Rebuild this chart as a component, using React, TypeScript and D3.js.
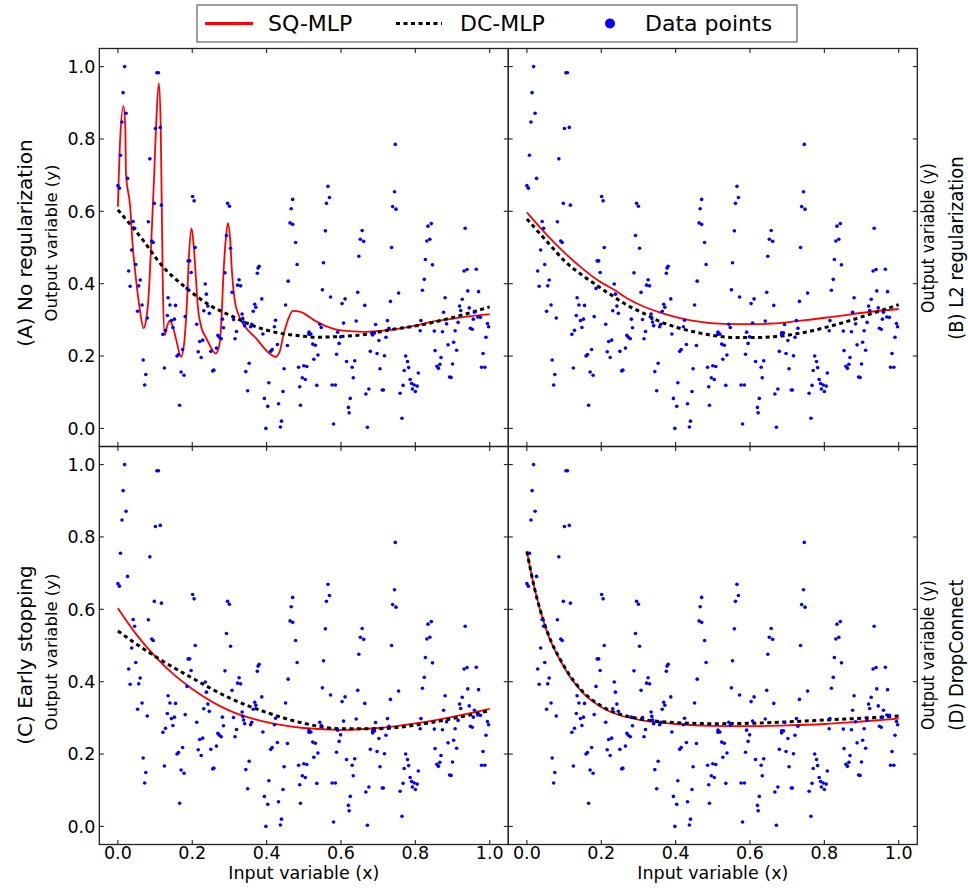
import React from "react";
import * as d3 from "d3";

// Shared scatter data (x, y)
const dataPoints: [number, number][] = [
  [0.018,1.0],[0.014,0.928],[0.105,0.983],[0.109,0.983],[0.022,0.871],[0.011,0.847],[0.101,0.829],[0.114,0.832],[0.007,0.755],[0.086,0.745],[0.026,0.691],[0.0,0.671],[0.004,0.664],[0.098,0.622],[0.117,0.617],[0.201,0.641],[0.205,0.629],[0.041,0.572],[0.082,0.571],[0.045,0.553],[0.091,0.518],[0.095,0.514],[0.037,0.493],[0.208,0.5],[0.048,0.453],[0.189,0.463],[0.193,0.463],[0.029,0.435],[0.197,0.431],[0.06,0.41],[0.033,0.393],[0.056,0.394],[0.235,0.399],[0.186,0.387],[0.135,0.361],[0.065,0.341],[0.14,0.341],[0.155,0.34],[0.053,0.324],[0.231,0.325],[0.079,0.305],[0.133,0.312],[0.181,0.309],[0.144,0.298],[0.152,0.302],[0.212,0.288],[0.148,0.279],[0.128,0.271],[0.121,0.26],[0.22,0.24],[0.228,0.244],[0.216,0.212],[0.224,0.196],[0.174,0.218],[0.159,0.2],[0.163,0.204],[0.068,0.189],[0.125,0.167],[0.075,0.149],[0.17,0.156],[0.178,0.147],[0.072,0.12],[0.166,0.064],
  [0.295,0.622],[0.3,0.614],[0.47,0.633],[0.466,0.607],[0.463,0.568],[0.47,0.564],[0.292,0.533],[0.478,0.514],[0.303,0.498],[0.482,0.453],[0.38,0.448],[0.377,0.443],[0.375,0.429],[0.288,0.43],[0.326,0.411],[0.322,0.396],[0.33,0.394],[0.458,0.407],[0.307,0.376],[0.238,0.371],[0.387,0.358],[0.368,0.343],[0.371,0.335],[0.451,0.341],[0.242,0.338],[0.246,0.318],[0.364,0.324],[0.334,0.316],[0.336,0.304],[0.338,0.294],[0.341,0.284],[0.281,0.302],[0.311,0.301],[0.36,0.288],[0.357,0.281],[0.424,0.299],[0.284,0.278],[0.319,0.268],[0.421,0.281],[0.39,0.261],[0.269,0.257],[0.273,0.252],[0.278,0.248],[0.315,0.248],[0.429,0.232],[0.456,0.229],[0.411,0.213],[0.415,0.218],[0.265,0.222],[0.25,0.213],[0.255,0.159],[0.258,0.161],[0.353,0.18],[0.344,0.157],[0.447,0.165],[0.486,0.169],[0.406,0.126],[0.489,0.115],[0.349,0.104],[0.444,0.102],[0.394,0.083],[0.432,0.068],[0.491,0.064],[0.403,0.061],[0.44,0.02],[0.437,0.004],[0.398,0.0],
  [0.746,0.785],[0.565,0.669],[0.569,0.638],[0.561,0.622],[0.744,0.654],[0.739,0.613],[0.748,0.606],[0.558,0.546],[0.657,0.547],[0.652,0.523],[0.661,0.517],[0.736,0.5],[0.648,0.476],[0.553,0.458],[0.55,0.383],[0.572,0.363],[0.611,0.358],[0.603,0.345],[0.645,0.376],[0.664,0.34],[0.733,0.351],[0.725,0.298],[0.729,0.277],[0.607,0.291],[0.641,0.297],[0.693,0.287],[0.543,0.288],[0.547,0.279],[0.514,0.266],[0.519,0.261],[0.514,0.26],[0.591,0.266],[0.599,0.253],[0.685,0.264],[0.69,0.264],[0.685,0.258],[0.721,0.252],[0.702,0.243],[0.595,0.235],[0.524,0.233],[0.531,0.23],[0.679,0.213],[0.697,0.207],[0.717,0.201],[0.538,0.203],[0.588,0.205],[0.527,0.191],[0.615,0.185],[0.637,0.187],[0.5,0.173],[0.508,0.171],[0.63,0.169],[0.705,0.165],[0.496,0.14],[0.504,0.135],[0.633,0.14],[0.535,0.119],[0.576,0.12],[0.585,0.12],[0.675,0.109],[0.667,0.095],[0.711,0.106],[0.714,0.106],[0.625,0.083],[0.62,0.058],[0.622,0.043],[0.58,0.012],[0.671,0.003],
  [0.834,0.559],[0.843,0.566],[0.831,0.518],[0.839,0.523],[0.934,0.553],[0.827,0.467],[0.846,0.452],[0.931,0.435],[0.939,0.439],[0.964,0.44],[0.824,0.412],[0.819,0.382],[0.755,0.374],[0.941,0.38],[0.97,0.378],[0.88,0.361],[0.926,0.357],[0.919,0.338],[0.922,0.326],[0.945,0.333],[0.876,0.321],[0.959,0.321],[0.968,0.308],[0.975,0.307],[0.815,0.298],[0.915,0.293],[0.956,0.302],[0.884,0.289],[0.994,0.29],[0.997,0.281],[0.948,0.277],[0.953,0.274],[0.813,0.27],[0.851,0.269],[0.873,0.267],[0.907,0.27],[0.99,0.252],[0.903,0.238],[0.888,0.231],[0.853,0.215],[0.911,0.216],[0.982,0.207],[0.774,0.2],[0.779,0.185],[0.869,0.196],[0.77,0.16],[0.782,0.168],[0.858,0.172],[0.862,0.166],[0.866,0.177],[0.9,0.178],[0.978,0.169],[0.987,0.169],[0.808,0.153],[0.786,0.135],[0.892,0.142],[0.896,0.141],[0.767,0.119],[0.79,0.124],[0.797,0.12],[0.805,0.117],[0.792,0.109],[0.8,0.102],[0.759,0.097],[0.764,0.028],
];

// SQ-MLP fits
const sqA: [number, number][] = [
  [0,0.613],[0.006,0.797],[0.015,0.891],[0.02,0.83],[0.0217,0.705],[0.033,0.613],[0.04,0.503],[0.049,0.41],[0.058,0.336],[0.069,0.277],[0.076,0.3],[0.083,0.373],[0.09,0.521],[0.097,0.687],[0.103,0.843],[0.11,0.954],[0.115,0.843],[0.118,0.613],[0.121,0.383],[0.126,0.258],[0.132,0.281],[0.139,0.297],[0.148,0.281],[0.157,0.244],[0.17,0.198],[0.179,0.244],[0.186,0.355],[0.191,0.475],[0.198,0.553],[0.204,0.503],[0.209,0.429],[0.215,0.337],[0.224,0.281],[0.238,0.249],[0.251,0.222],[0.263,0.207],[0.272,0.226],[0.278,0.29],[0.284,0.429],[0.29,0.521],[0.296,0.567],[0.302,0.521],[0.307,0.429],[0.314,0.355],[0.323,0.318],[0.336,0.29],[0.354,0.267],[0.372,0.249],[0.39,0.226],[0.408,0.207],[0.424,0.198],[0.435,0.212],[0.444,0.253],[0.457,0.299],[0.471,0.325],[0.489,0.323],[0.534,0.295],[0.578,0.276],[0.623,0.269],[0.668,0.267],[0.713,0.27],[0.758,0.276],[0.802,0.285],[0.847,0.295],[0.892,0.302],[0.937,0.309],[1.0,0.316],
];
const sqB: [number, number][] = [
  [0,0.597],[0.058,0.53],[0.103,0.484],[0.148,0.443],[0.193,0.408],[0.238,0.381],[0.269,0.36],[0.314,0.337],[0.359,0.32],[0.404,0.307],[0.449,0.297],[0.493,0.291],[0.57,0.288],[0.615,0.288],[0.66,0.29],[0.705,0.294],[0.749,0.299],[0.825,0.309],[0.915,0.321],[1.0,0.33],
];
const sqC: [number, number][] = [
  [0,0.603],[0.05,0.53],[0.1,0.47],[0.15,0.42],[0.2,0.38],[0.3,0.32],[0.4,0.288],[0.5,0.272],[0.6,0.267],[0.7,0.272],[0.8,0.285],[0.9,0.303],[1.0,0.325],
];
const sqD: [number, number][] = [
  [0,0.76],[0.02,0.66],[0.05,0.55],[0.1,0.44],[0.15,0.37],[0.2,0.33],[0.3,0.295],[0.4,0.283],[0.5,0.278],[0.6,0.277],[0.7,0.279],[0.8,0.283],[0.9,0.29],[1.0,0.298],
];

// DC-MLP fits
const dcA: [number, number][] = [
  [0,0.604],[0.067,0.521],[0.121,0.447],[0.184,0.388],[0.246,0.341],[0.309,0.309],[0.363,0.284],[0.426,0.265],[0.489,0.256],[0.534,0.252],[0.596,0.254],[0.668,0.26],[0.74,0.274],[0.811,0.285],[0.883,0.302],[0.955,0.322],[1.0,0.336],
];
const dcB: [number, number][] = [
  [0,0.579],[0.058,0.512],[0.103,0.461],[0.148,0.424],[0.193,0.392],[0.229,0.367],[0.269,0.341],[0.314,0.318],[0.359,0.295],[0.404,0.279],[0.449,0.267],[0.493,0.258],[0.57,0.251],[0.615,0.251],[0.66,0.253],[0.705,0.258],[0.749,0.266],[0.825,0.285],[0.915,0.313],[1.0,0.342],
];
const dcC: [number, number][] = [
  [0,0.54],[0.1,0.47],[0.2,0.41],[0.3,0.355],[0.4,0.315],[0.5,0.285],[0.6,0.27],[0.7,0.27],[0.8,0.28],[0.9,0.298],[1.0,0.32],
];
const dcD: [number, number][] = [
  [0,0.76],[0.02,0.66],[0.05,0.552],[0.1,0.443],[0.15,0.373],[0.2,0.333],[0.3,0.298],[0.4,0.287],[0.5,0.284],[0.6,0.285],[0.7,0.289],[0.8,0.294],[0.9,0.299],[1.0,0.305],
];

const ticks = [0, 0.2, 0.4, 0.6, 0.8, 1.0];
const panelTitles = ["(A) No regularization", "(B) L2 regularization", "(C) Early stopping", "(D) DropConnect"];
const yAxisLabel = "Output variable (y)";
const xAxisLabel = "Input variable (x)";
const legendLabels = ["SQ-MLP", "DC-MLP", "Data points"];

const FONT = "'DejaVu Sans', sans-serif";

const panelW = 409;
const panelH = 398;
const left0 = 99.3;
const top0 = 48.5;

type PanelProps = { col: number; row: number; sq: [number, number][]; dc: [number, number][] };

function Panel({ col, row, sq, dc }: PanelProps) {
  const x0 = left0 + col * panelW;
  const y0 = top0 + row * panelH;
  const xs = d3.scaleLinear().domain([-0.05, 1.05]).range([x0, x0 + panelW]);
  const ys = d3.scaleLinear().domain([-0.05, 1.05]).range([y0 + panelH, y0]);
  const line = d3.line<[number, number]>().x(d => xs(d[0])).y(d => ys(d[1])).curve(d3.curveMonotoneX);
  const tl = 4.5;
  const clipId = `clip-${col}-${row}`;
  return (
    <g>
      <defs>
        <clipPath id={clipId}>
          <rect x={x0} y={y0} width={panelW} height={panelH} />
        </clipPath>
      </defs>
      <g clipPath={`url(#${clipId})`}>
        <path d={line(sq) || ""} fill="none" stroke="#ff0000" strokeWidth={1.8} />
        <path d={line(dc) || ""} fill="none" stroke="#000" strokeWidth={3} strokeDasharray="4 3.5" />
        {dataPoints.map((p, i) => (
          <circle key={i} cx={xs(p[0])} cy={ys(p[1])} r={1.8} fill="#0000ff" />
        ))}
      </g>
      <rect x={x0} y={y0} width={panelW} height={panelH} fill="none" stroke="#222" strokeWidth={1.3} />
      {ticks.map(t => (
        <g key={"t" + t} stroke="#222" strokeWidth={1.1}>
          <line x1={xs(t)} x2={xs(t)} y1={y0 + panelH} y2={y0 + panelH - tl} />
          <line x1={xs(t)} x2={xs(t)} y1={y0} y2={y0 + tl} />
          <line x1={x0} x2={x0 + tl} y1={ys(t)} y2={ys(t)} />
          <line x1={x0 + panelW} x2={x0 + panelW - tl} y1={ys(t)} y2={ys(t)} />
        </g>
      ))}
      {col === 0 &&
        ticks.map(t => (
          <text key={"yl" + t} x={x0 - 4} y={ys(t)} dy="0.36em" textAnchor="end" fontSize={17.5} fontFamily={FONT} fill="#000">
            {t.toFixed(1)}
          </text>
        ))}
      {row === 1 &&
        ticks.map(t => (
          <text key={"xl" + t} x={xs(t)} y={y0 + panelH + 14} textAnchor="middle" fontSize={17.5} fontFamily={FONT} fill="#000">
            {t.toFixed(1)}
          </text>
        ))}
      {row === 1 && (
        <text x={xs(0.5)} y={y0 + panelH + 34} textAnchor="middle" fontSize={17.5} fontFamily={FONT} fill="#000">
          {xAxisLabel}
        </text>
      )}
    </g>
  );
}

function SideLabel({ x, y, text, size, condensed }: { x: number; y: number; text: string; size: number; condensed?: boolean }) {
  return (
    <text
      transform={`translate(${x},${y}) rotate(-90)`}
      textAnchor="middle"
      dominantBaseline="central"
      fontSize={size}
      fontFamily={condensed ? "'DejaVu Sans Condensed', 'DejaVu Sans', sans-serif" : FONT}
      style={condensed ? { fontStretch: "condensed" } : undefined}
      fill="#000"
    >
      {text}
    </text>
  );
}

export default function App() {
  const lx = 197, ly = 5, lw = 600, lh = 37;
  const cy = ly + lh / 2;
  return (
    <svg width={968} height={888} style={{ position: "absolute", left: 0, top: 0, background: "#fff" }}>
      <rect x={0} y={0} width={968} height={888} fill="#fff" />
      <Panel col={0} row={0} sq={sqA} dc={dcA} />
      <Panel col={1} row={0} sq={sqB} dc={dcB} />
      <Panel col={0} row={1} sq={sqC} dc={dcC} />
      <Panel col={1} row={1} sq={sqD} dc={dcD} />

      <SideLabel x={25} y={243} text={panelTitles[0]} size={20} />
      <SideLabel x={51} y={243} text={yAxisLabel} size={16.5} />
      <SideLabel x={25} y={655} text={panelTitles[2]} size={20} />
      <SideLabel x={51} y={652} text={yAxisLabel} size={16.5} />

      <SideLabel x={928} y={238} text={yAxisLabel} size={17.5} condensed />
      <SideLabel x={956} y={248} text={panelTitles[1]} size={20} condensed />
      <SideLabel x={928} y={655} text={yAxisLabel} size={17.5} condensed />
      <SideLabel x={956} y={655} text={panelTitles[3]} size={20} condensed />

      <g>
        <rect x={lx} y={ly} width={lw} height={lh} fill="#fff" stroke="#444" strokeWidth={1} />
        <line x1={205} x2={253} y1={cy} y2={cy} stroke="#ff0000" strokeWidth={3} />
        <text x={268} y={cy} dy="0.36em" fontSize={22} fontFamily={FONT}>{legendLabels[0]}</text>
        <line x1={396} x2={442} y1={cy} y2={cy} stroke="#000" strokeWidth={3} strokeDasharray="4 3.5" />
        <text x={460} y={cy} dy="0.36em" fontSize={22} fontFamily={FONT}>{legendLabels[1]}</text>
        <circle cx={610} cy={cy} r={5} fill="#0000ff" />
        <text x={645} y={cy} dy="0.36em" fontSize={22} fontFamily={FONT}>{legendLabels[2]}</text>
      </g>
    </svg>
  );
}
